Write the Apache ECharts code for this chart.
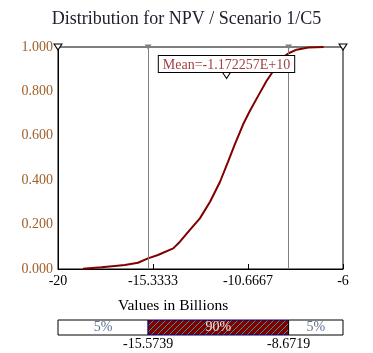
<!DOCTYPE html>
<html lang="en">
<head>
<meta charset="utf-8">
<script src="https://cdn.jsdelivr.net/npm/echarts@6/dist/echarts.min.js"></script>
</head>
<body style="margin:0">
<div id="main" style="width:373px;height:353px"></div>
<script>
// cumulative curve (values in billions)
var npvX = [-18.77, -17.87, -17.21, -16.72, -16.07, -15.58, -15.09, -14.34, -14.01, -13.52, -13.03, -12.53,
            -12.04, -11.64, -11.31, -10.9, -10.57, -10.16, -9.75, -9.42, -9.01, -8.67, -8.28, -7.7, -6.95];
var cumProb = [0.001, 0.008, 0.014, 0.018, 0.028, 0.048, 0.063, 0.093, 0.123, 0.176, 0.228, 0.303,
               0.393, 0.485, 0.563, 0.653, 0.713, 0.781, 0.848, 0.893, 0.95, 0.972, 0.988, 0.998, 1.0];
var xTicks = [-20, -15.3333, -10.6667, -6];
var pctBounds = [-15.5739, -8.6719];
var meanVal = -11.72257;
var bandStarts = [-20, -15.5739, -8.6719];
var bandEnds = [-15.5739, -8.6719, -6];
var bandLabels = ['5%', '90%', '5%'];

var serif = '"Liberation Serif", "DejaVu Serif", serif';

// hatch fill for the 90% band
var pc = document.createElement('canvas');
pc.width = 6; pc.height = 6;
var g = pc.getContext('2d');
g.fillStyle = '#800000';
g.fillRect(0, 0, 6, 6);
g.strokeStyle = '#3a9a9a';
g.lineWidth = 1;
g.beginPath();
g.moveTo(0, 6); g.lineTo(6, 0);
g.moveTo(-1, 1); g.lineTo(1, -1);
g.moveTo(5, 7); g.lineTo(7, 5);
g.stroke();

var lineData = npvX.map(function (x, i) { return [x, cumProb[i]]; });
var bandData = bandStarts.map(function (s, i) { return [s, bandEnds[i], bandLabels[i]]; });

var chart = echarts.init(document.getElementById('main'));
chart.setOption({
    animation: false,
    title: {
        text: 'Distribution for NPV / Scenario 1/C5',
        left: 'center',
        top: 5,
        textStyle: { fontFamily: serif, fontSize: 18, fontWeight: 'normal', color: '#202030' }
    },
    graphic: [{
        type: 'text', left: 118, top: 298,
        style: { text: 'Values in Billions', font: '15.5px ' + serif, fill: '#000' }
    }],
    grid: [
        { left: 58, right: 30, top: 47, bottom: 84, show: true, borderColor: '#000', borderWidth: 1, backgroundColor: '#fff' },
        { left: 58, right: 30, top: 320, height: 15 }
    ],
    xAxis: [{
        type: 'value', min: -20, max: -6, interval: 14 / 3,
        axisLine: { lineStyle: { color: '#000' } },
        axisTick: { inside: true, length: 5, lineStyle: { color: '#000' } },
        splitLine: { show: false },
        axisLabel: {
            fontFamily: serif, fontSize: 14, color: '#000', margin: 5,
            formatter: function (v) {
                var best = xTicks.reduce(function (a, b) { return Math.abs(b - v) < Math.abs(a - v) ? b : a; });
                return String(best);
            }
        }
    }, {
        gridIndex: 1, type: 'value', min: -20, max: -6, show: false
    }],
    yAxis: [{
        type: 'value', min: 0, max: 1, interval: 0.2,
        axisLine: { show: true, lineStyle: { color: '#000' } },
        axisTick: { show: false },
        splitLine: { show: false },
        axisLabel: {
            fontFamily: serif, fontSize: 14, color: '#a0602a', margin: 5,
            formatter: function (v) { return v.toFixed(3); }
        }
    }, {
        gridIndex: 1, type: 'category', data: ['band'], show: false
    }],
    series: [{
        type: 'line',
        data: lineData,
        showSymbol: false,
        lineStyle: { color: '#800000', width: 2 },
        z: 3,
        markLine: {
            silent: true,
            symbol: 'none',
            label: { show: false },
            lineStyle: { color: '#808080', width: 1, type: 'solid' },
            data: pctBounds.map(function (v) { return { xAxis: v }; })
        },
        markPoint: {
            silent: true,
            data: [
                { coord: [-20, 1], symbol: 'triangle', symbolRotate: 180, symbolSize: [8, 6], itemStyle: { color: '#fff', borderColor: '#000', borderWidth: 1 }, label: { show: false } },
                { coord: [-6, 1], symbol: 'triangle', symbolRotate: 180, symbolSize: [8, 6], itemStyle: { color: '#fff', borderColor: '#000', borderWidth: 1 }, label: { show: false } },
                { coord: [pctBounds[0], 1], symbol: 'triangle', symbolRotate: 180, symbolSize: [7, 5], itemStyle: { color: '#808080' }, label: { show: false } },
                { coord: [pctBounds[1], 1], symbol: 'triangle', symbolRotate: 180, symbolSize: [7, 5], itemStyle: { color: '#808080' }, label: { show: false } },
                {
                    coord: [meanVal, 0.872], symbol: 'triangle', symbolRotate: 180, symbolSize: [8, 6],
                    itemStyle: { color: '#fff', borderColor: '#000', borderWidth: 1 },
                    label: {
                        show: true, position: 'top', distance: 0,
                        formatter: 'Mean=-1.172257E+10',
                        fontFamily: serif, fontSize: 14, color: '#a04040',
                        backgroundColor: '#fff', borderColor: '#000', borderWidth: 1,
                        padding: [2, 4, 0, 4]
                    }
                }
            ]
        }
    }, {
        type: 'custom',
        xAxisIndex: 1, yAxisIndex: 1,
        data: bandData,
        renderItem: function (params, api) {
            var p0 = api.coord([api.value(0), 0]);
            var p1 = api.coord([api.value(1), 0]);
            var h = api.size([0, 1])[1];
            var mid = params.dataIndex === 1;
            var children = [{
                type: 'rect',
                shape: { x: p0[0], y: p0[1] - h / 2, width: p1[0] - p0[0], height: h },
                style: mid ? { fill: { image: pc, repeat: 'repeat' }, stroke: '#000080', lineWidth: 1 }
                           : { fill: '#fff', stroke: '#000', lineWidth: 1 }
            }, {
                type: 'text',
                style: {
                    text: bandLabels[params.dataIndex],
                    x: (p0[0] + p1[0]) / 2, y: p0[1],
                    align: 'center', verticalAlign: 'middle',
                    font: '14px ' + serif,
                    fill: mid ? '#f0e0e0' : '#607090'
                }
            }];
            if (params.dataIndex > 0) {
                children.push({
                    type: 'text',
                    style: {
                        text: String(api.value(0)),
                        x: p0[0], y: p0[1] + h / 2 + 2,
                        align: 'center', verticalAlign: 'top',
                        font: '14px ' + serif, fill: '#000'
                    }
                });
            }
            return { type: 'group', children: children };
        }
    }]
});
</script>
</body>
</html>
